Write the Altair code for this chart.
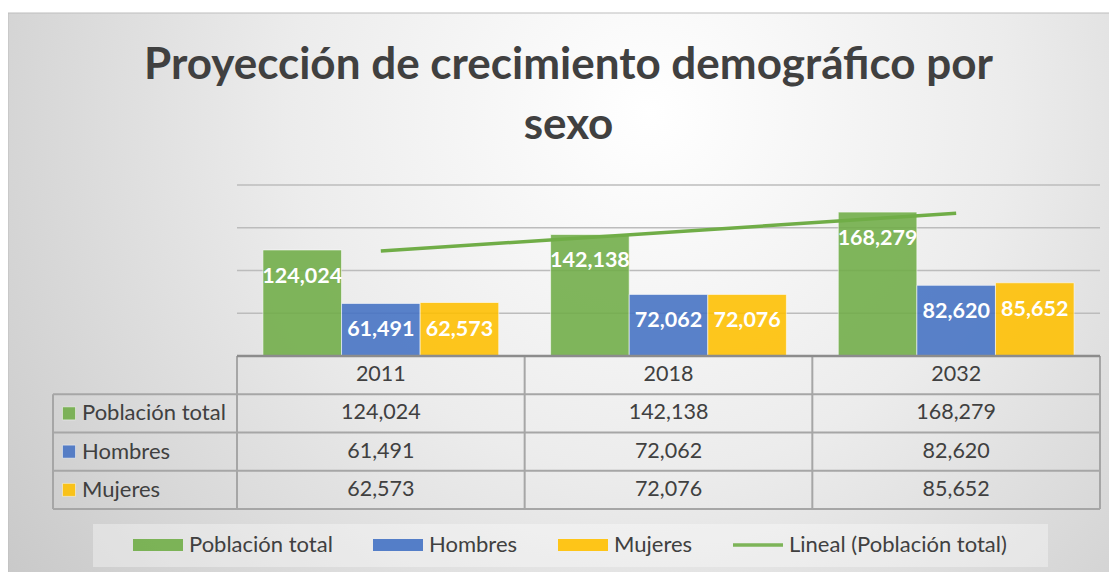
import altair as alt
import pandas as pd

# ---------------- data ----------------
years = ["2011", "2018", "2032"]
series = ["Población total", "Hombres", "Mujeres"]
trend_name = "Lineal (Población total)"
total = [124024, 142138, 168279]
hombres = [61491, 72062, 82620]
mujeres = [62573, 72076, 85652]
grid_values = [50000, 100000, 150000, 200000]
title_lines = ["Proyección de crecimiento demográfico por", "sexo"]
header_row = "Año"

colors = ["#70AD47", "#4472C4", "#FFC000", "#70AD47"]
TEXT = "#404040"
FONT = "Lato"

rows = []
for s, vals in zip(series, [total, hombres, mujeres]):
    for i, (yr, v) in enumerate(zip(years, vals)):
        rows.append({"year": yr, "idx": i + 1, "series": s, "value": v})
df = pd.DataFrame(rows)
years_df = pd.DataFrame({"year": years, "row": header_row})
series_df = pd.DataFrame({"series": series})
grid_df = pd.DataFrame({"v": grid_values})

# ---------------- layout ----------------
W, H, PLOT_H = 863, 324, 171
ROW_H = (H - PLOT_H) / 4

x_band = alt.Scale(domain=years, paddingInner=0, paddingOuter=0)
off_scale = alt.Scale(domain=series, paddingInner=0, paddingOuter=0.33)
y_val = alt.Scale(domain=[0, 200000], range=[PLOT_H, 0])
row_scale = alt.Scale(domain=[header_row] + series, range=[PLOT_H, H], paddingInner=0, paddingOuter=0)
color_scale = alt.Scale(domain=series + [trend_name], range=colors)
rect_path = "M-1,-0.24H1V0.24H-1Z"
line_path = "M-1,-0.07H1V0.07H-1Z"
shape_scale = alt.Scale(domain=series + [trend_name], range=[rect_path, rect_path, rect_path, line_path])

legend = alt.Legend(
    title=None, orient="none", legendX=-104, legendY=335, direction="horizontal",
    columns=4, symbolSize=2500, labelFont=FONT, labelFontSize=22, labelColor=TEXT,
    labelOffset=6, columnPadding=40, padding=0, symbolStrokeWidth=0, symbolOpacity=0.9,
    labelLimit=0,
)

one = alt.Data(values=[{}])

bg = alt.Chart(one).mark_rect(
    fill={
        "gradient": "radial",
        "x1": 0.57, "y1": 0.33, "r1": 0,
        "x2": 0.57, "y2": 0.33, "r2": 0.8,
        "stops": [
            {"offset": 0, "color": "#ffffff"},
            {"offset": 0.4, "color": "#ececec"},
            {"offset": 1, "color": "#c0c0c0"},
        ],
    },
    stroke="#bdbdbd", strokeWidth=1,
).encode(x=alt.value(-229), x2=alt.value(895), y=alt.value(-172), y2=alt.value(410))

legend_box = alt.Chart(one).mark_rect(fill="#ffffff", opacity=0.35).encode(
    x=alt.value(-144), x2=alt.value(811), y=alt.value(339), y2=alt.value(382)
)

grid = alt.Chart(grid_df).mark_rule(color="#bcbcbc", strokeWidth=1.5).encode(
    y=alt.Y("v:Q", scale=y_val, axis=None), x=alt.value(0), x2=alt.value(W)
)

base = alt.Chart(df)

bars = base.mark_bar(opacity=0.88, stroke="#ffffff", strokeWidth=1, strokeOpacity=0.6).encode(
    x=alt.X("year:N", scale=x_band, axis=None),
    xOffset=alt.XOffset("series:N", scale=off_scale),
    y=alt.Y("value:Q", scale=y_val, axis=None),
    color=alt.Color("series:N", scale=color_scale, legend=legend),
)

bar_labels = base.mark_text(
    font=FONT, fontSize=21.5, fontWeight="bold", color="#ffffff", baseline="middle", dy=27
).encode(
    x=alt.X("year:N", scale=x_band, axis=None),
    xOffset=alt.XOffset("series:N", scale=off_scale),
    y=alt.Y("value:Q", scale=y_val, axis=None),
    text=alt.Text("value:Q", format=","),
)

trend = base.transform_filter(
    alt.datum.series == series[0]
).transform_regression("idx", "value").mark_line(color="#70AD47", strokeWidth=3.5).encode(
    x=alt.X("idx:Q", scale=alt.Scale(domain=[0.5, 3.5]), axis=None),
    y=alt.Y("value:Q", scale=y_val, axis=None),
)

# table lines
LINE = "#a6a6a6"
h_lines = alt.Chart(series_df).mark_rule(color=LINE, strokeWidth=2).encode(
    y=alt.Y("series:N", scale=row_scale, bandPosition=0, axis=None),
    x=alt.value(-184), x2=alt.value(W),
)
bottom_line = alt.Chart(one).mark_rule(color=LINE, strokeWidth=2).encode(
    y=alt.value(H), x=alt.value(-184), x2=alt.value(W)
)
v_lines = alt.Chart(years_df).mark_rule(color=LINE, strokeWidth=2).encode(
    x=alt.X("year:N", scale=x_band, bandPosition=0, axis=None),
    y=alt.value(PLOT_H), y2=alt.value(H),
)
right_line = alt.Chart(one).mark_rule(color=LINE, strokeWidth=2).encode(
    x=alt.value(W), y=alt.value(PLOT_H), y2=alt.value(H)
)
left_line = alt.Chart(one).mark_rule(color=LINE, strokeWidth=2).encode(
    x=alt.value(-184), y=alt.value(PLOT_H + ROW_H), y2=alt.value(H)
)
baseline = alt.Chart(one).mark_rule(color="#8c8c8c", strokeWidth=2.5).encode(
    y=alt.Y(datum=0, scale=y_val, axis=None), x=alt.value(0), x2=alt.value(W)
)

cells = base.mark_text(font=FONT, fontSize=21.5, color=TEXT, baseline="middle").encode(
    x=alt.X("year:N", scale=x_band, axis=None),
    y=alt.Y("series:N", scale=row_scale, axis=None),
    text=alt.Text("value:Q", format=","),
)
year_heads = alt.Chart(years_df).mark_text(font=FONT, fontSize=21.5, color=TEXT, baseline="middle").encode(
    x=alt.X("year:N", scale=x_band, axis=None),
    y=alt.Y("row:N", scale=row_scale, axis=None),
    text="year:N",
)
row_squares = alt.Chart(series_df).mark_square(size=169, opacity=0.88, stroke="#ffffff", strokeWidth=1, strokeOpacity=0.5).encode(
    x=alt.value(-168),
    y=alt.Y("series:N", scale=row_scale, axis=None),
    color=alt.Color("series:N", scale=color_scale, legend=legend),
)
row_labels = alt.Chart(series_df).mark_text(font=FONT, fontSize=22, color=TEXT, align="left", baseline="middle").encode(
    x=alt.value(-155),
    y=alt.Y("series:N", scale=row_scale, axis=None),
    text="series:N",
)

legend_layer = base.transform_filter("false").mark_point(filled=True, opacity=1).encode(
    shape=alt.Shape("series:N", scale=shape_scale, legend=legend),
    color=alt.Color("series:N", scale=color_scale, legend=legend),
)

chart = alt.layer(
    bg, legend_box, grid, h_lines, bottom_line, v_lines, right_line, left_line,
    bars, bar_labels, baseline, trend, cells, year_heads, row_squares, row_labels, legend_layer,
).resolve_scale(
    x="independent", y="independent"
).properties(
    width=W, height=H,
    title=alt.TitleParams(
        text=title_lines, font=FONT, fontSize=44, fontWeight="bold", color=TEXT,
        anchor="middle", dx=-100, lineHeight=60, offset=-135,
    ),
    autosize=alt.AutoSizeParams(type="none"),
    padding={"left": 229, "top": 177, "right": 9, "bottom": 63},
).configure_view(stroke=None)

chart.save("out.html", embed_options={"renderer": "svg", "actions": False})
